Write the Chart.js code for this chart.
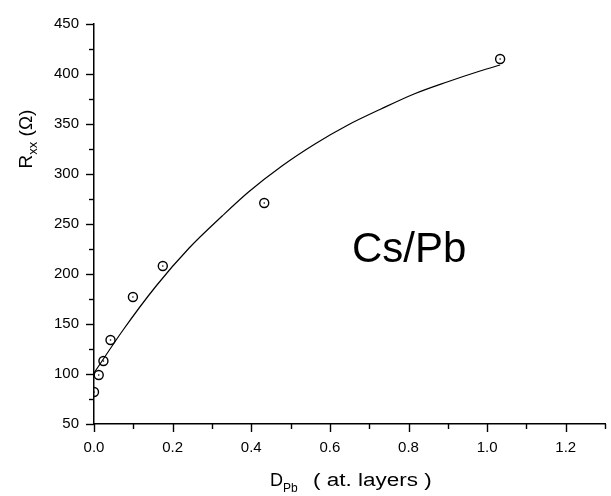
<!DOCTYPE html>
<html>
<head>
<meta charset="utf-8">
<script src="https://cdn.jsdelivr.net/npm/chart.js@4/dist/chart.umd.min.js"></script>
<style>
  html, body { margin: 0; padding: 0; background: #fff; }
  #wrap { width: 611px; height: 496px; }
</style>
</head>
<body>
<div id="wrap"><canvas id="c" width="611" height="496"></canvas></div>
<script>
// Measured points: thickness D_Pb (atomic layers) vs R_xx (Ohm)
const thickness = [0.0, 0.012, 0.024, 0.042, 0.099, 0.175, 0.433, 1.033];
const resistance = [82, 99, 113, 134, 177, 208, 271, 415];

// Fitted curve, values
const fitThickness = [0, 0.074, 0.158, 0.242, 0.326, 0.393, 0.478, 0.562, 0.646, 0.73, 0.814, 0.898, 0.982, 1.033];
const fitResistance = [101, 144, 188, 226, 258, 282, 308, 330, 349, 365, 380, 392, 403, 409];

// Axis ranges / ticks
const xMin = 0, xMax = 1.3, xStep = 0.2, xMinorStep = 0.1;
const yMin = 50, yMax = 450, yStep = 50, yMinorStep = 25;

const label = "Cs/Pb";

const pts = (xs, ys) => xs.map((x, i) => ({x: x, y: ys[i]}));
const FONT = "'Liberation Sans', Arial, Helvetica, sans-serif";

const decor = {
  id: 'decor',
  afterDraw(chart) {
    const ctx = chart.ctx;
    const xs = chart.scales.x, ys = chart.scales.y;
    ctx.save();
    ctx.strokeStyle = '#000';
    ctx.lineWidth = 1.4;
    // x tick marks
    const nx = Math.round((xMax - xMin) / xMinorStep);
    for (let i = 0; i <= nx; i++) {
      const v = xMin + i * xMinorStep;
      const px = Math.round(xs.getPixelForValue(v)) + 0.5;
      const len = (i % 2 === 0) ? 8 : 5;
      ctx.beginPath();
      ctx.moveTo(px, ys.bottom);
      ctx.lineTo(px, ys.bottom + len);
      ctx.stroke();
    }
    // y tick marks
    const ny = Math.round((yMax - yMin) / yMinorStep);
    for (let i = 0; i <= ny; i++) {
      const v = yMin + i * yMinorStep;
      const py = Math.round(ys.getPixelForValue(v)) + 0.5;
      const len = (i % 2 === 0) ? 8 : 5;
      ctx.beginPath();
      ctx.moveTo(xs.left - len, py);
      ctx.lineTo(xs.left, py);
      ctx.stroke();
    }
    ctx.fillStyle = '#000';
    ctx.textBaseline = 'alphabetic';
    // x title
    ctx.textAlign = 'left';
    ctx.font = '18px ' + FONT;
    ctx.fillText('D', 270, 486);
    ctx.font = '12px ' + FONT;
    ctx.fillText('Pb', 283, 492);
    ctx.save();
    ctx.translate(313, 486);
    ctx.scale(1.25, 1);
    ctx.font = '18px ' + FONT;
    ctx.fillText('( at. layers )', 0, 0);
    ctx.restore();
    // y title (rotated)
    ctx.save();
    ctx.translate(32, 139);
    ctx.rotate(-Math.PI / 2);
    ctx.font = '19px ' + FONT;
    const wR = ctx.measureText('R').width;
    ctx.font = '13px ' + FONT;
    const wS = ctx.measureText('xx').width;
    ctx.font = '19px ' + FONT;
    const wT = ctx.measureText(' (\u03A9)').width;
    let x0 = -(wR + wS + wT) / 2;
    ctx.fillText('R', x0, 0);
    ctx.font = '13px ' + FONT;
    ctx.fillText('xx', x0 + wR, 5);
    ctx.font = '19px ' + FONT;
    ctx.fillText(' (\u03A9)', x0 + wR + wS, 0);
    ctx.restore();
    // annotation label
    ctx.font = '42px ' + FONT;
    ctx.fillText(label, 352, 262);
    ctx.restore();
  }
};

new Chart(document.getElementById('c'), {
  type: 'scatter',
  data: {
    datasets: [
      {
        label: 'fit',
        data: pts(fitThickness, fitResistance),
        showLine: true,
        borderColor: '#000',
        borderWidth: 1.2,
        pointRadius: 0,
        cubicInterpolationMode: 'monotone',
        fill: false
      },
      {
        label: 'data',
        data: pts(thickness, resistance),
        showLine: false,
        pointStyle: 'circle',
        pointRadius: 4.5,
        pointBorderWidth: 1.4,
        pointBorderColor: '#000',
        pointBackgroundColor: 'rgba(255,255,255,0)'
      },
      {
        label: 'dot',
        data: pts(thickness, resistance),
        showLine: false,
        pointStyle: 'circle',
        pointRadius: 0.8,
        pointBorderWidth: 0,
        pointBackgroundColor: '#000'
      }
    ]
  },
  options: {
    responsive: false,
    animation: false,
    events: [],
    layout: { padding: { top: 17, right: 1, left: 0, bottom: 0 } },
    plugins: { legend: { display: false }, tooltip: { enabled: false } },
    scales: {
      x: {
        type: 'linear',
        min: xMin, max: xMax,
        afterFit: (s) => { s.height = 72; },
        grid: { display: false, drawTicks: false },
        border: { display: true, color: '#000', width: 1.5 },
        ticks: {
          stepSize: xStep,
          includeBounds: false,
          padding: 15,
          color: '#000',
          font: { family: FONT, size: 15 },
          maxRotation: 0,
          autoSkip: false,
          callback: (v) => Number(v).toFixed(1)
        }
      },
      y: {
        type: 'linear',
        min: yMin, max: yMax,
        afterFit: (s) => { s.width = 94; },
        grid: { display: false, drawTicks: false },
        border: { display: true, color: '#000', width: 1.5 },
        ticks: {
          stepSize: yStep,
          padding: 15,
          color: '#000',
          font: { family: FONT, size: 15 },
          autoSkip: false
        }
      }
    }
  },
  plugins: [decor]
});
</script>
</body>
</html>
